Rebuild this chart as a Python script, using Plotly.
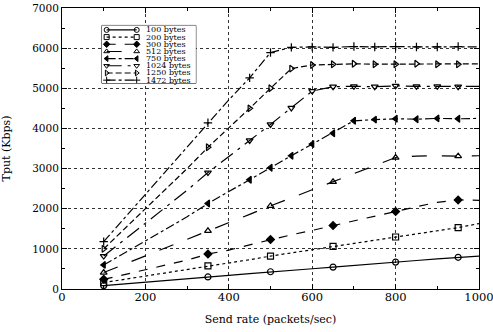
import plotly.graph_objects as go

# ---------------- data ----------------
SEND_RATE = [100, 150, 200, 250, 300, 350, 400, 450, 500, 550,
             600, 650, 700, 750, 800, 850, 900, 950, 1000]
MARKER_RATES_LOW = [100, 350, 500, 650, 800, 950]
MARKER_RATES_HIGH = [100, 350, 450, 500, 550, 600, 650, 700, 750,
                     800, 850, 900, 950]
SERIES_NAMES = ["100 bytes", "200 bytes", "300 bytes", "512 bytes",
                "750 bytes", "1024 bytes", "1250 bytes", "1472 bytes"]

TPUT_100 = [85, 125, 165, 205, 245, 300, 340, 385, 430, 470,
            505, 545, 590, 630, 670, 710, 750, 790, 820]
TPUT_200 = [160, 240, 320, 400, 480, 575, 650, 730, 820, 900,
            980, 1060, 1130, 1210, 1295, 1380, 1450, 1530, 1630]
TPUT_300 = [240, 360, 480, 600, 720, 870, 970, 1100, 1230, 1350,
            1460, 1580, 1700, 1810, 1930, 2050, 2160, 2220, 2210]
TPUT_512 = [410, 615, 820, 1020, 1230, 1450, 1650, 1860, 2070, 2270,
            2470, 2670, 2870, 3070, 3275, 3310, 3320, 3310, 3320]
TPUT_750 = [600, 900, 1200, 1500, 1800, 2130, 2420, 2720, 3020, 3320,
            3610, 3880, 4190, 4220, 4240, 4230, 4250, 4240, 4250]
TPUT_1024 = [820, 1230, 1640, 2050, 2460, 2900, 3290, 3700, 4100, 4510,
             4930, 5040, 5050, 5040, 5060, 5050, 5050, 5040, 5050]
TPUT_1250 = [1000, 1500, 2000, 2500, 3000, 3530, 4010, 4500, 5000, 5490,
             5580, 5600, 5610, 5600, 5600, 5610, 5600, 5600, 5610]
TPUT_1472 = [1180, 1770, 2370, 2940, 3530, 4140, 4710, 5260, 5890, 6020,
             6030, 6020, 6040, 6030, 6040, 6030, 6030, 6040, 6030]

X_TICKS = [0, 200, 400, 600, 800, 1000]
Y_TICKS = [0, 1000, 2000, 3000, 4000, 5000, 6000, 7000]

ALL_SERIES = [TPUT_100, TPUT_200, TPUT_300, TPUT_512,
              TPUT_750, TPUT_1024, TPUT_1250, TPUT_1472]
MARKER_SETS = [MARKER_RATES_LOW] * 4 + [MARKER_RATES_HIGH] * 4

# ---------------- styles ----------------
DASHES = ["solid", "dot", "dash", "longdash", "dashdot",
          "longdashdot", "6px,3px", "dashdot"]
SYMBOLS = ["circle-open", "square-open", "diamond", "triangle-up-open",
           "triangle-left", "triangle-down-open", "triangle-right-open",
           "cross-thin-open"]
SERIF = "DejaVu Serif, Liberation Serif, serif"

fig = go.Figure()

for name, vals, dash, sym, mrates in zip(SERIES_NAMES, ALL_SERIES, DASHES,
                                         SYMBOLS, MARKER_SETS):
    fig.add_trace(go.Scatter(
        x=SEND_RATE, y=vals, mode="lines", name=name,
        line=dict(color="black", width=1.2, dash=dash),
        showlegend=False, hoverinfo="skip"))
    mx = [r for r in SEND_RATE if r in mrates]
    my = [v for r, v in zip(SEND_RATE, vals) if r in mrates]
    fig.add_trace(go.Scatter(
        x=mx, y=my, mode="markers", name=name,
        marker=dict(symbol=sym, size=6, color="black",
                    line=dict(color="black", width=1.2)),
        showlegend=False))

# ---------------- hand-drawn legend in its own small axes ----------------
L_X0, L_X1 = (102 - 62) / 417.5, (196 - 62) / 417.5
L_Y0, L_Y1 = (289.5 - 83) / 282, (289.5 - 25) / 282
fig.add_shape(type="rect", xref="paper", yref="paper",
              x0=L_X0, x1=L_X1, y0=L_Y0, y1=L_Y1,
              line=dict(color="black", width=1), fillcolor="white",
              layer="between")
for i, (name, dash, sym) in enumerate(zip(SERIES_NAMES, DASHES, SYMBOLS)):
    yy = (83 - (29.5 + 7.2 * i)) / 58
    fig.add_trace(go.Scatter(
        x=[0.05, 0.37], y=[yy, yy], mode="lines+markers",
        xaxis="x2", yaxis="y2", showlegend=False, hoverinfo="skip",
        line=dict(color="black", width=1.1, dash=dash),
        marker=dict(symbol=sym, size=5, color="black",
                    line=dict(color="black", width=1))))
    fig.add_annotation(x=0.45, y=yy, xref="x2", yref="y2", text=name,
                       showarrow=False, xanchor="left", yanchor="middle",
                       font=dict(family=SERIF, size=8, color="black"))

axis_common = dict(
    showline=True, linecolor="black", linewidth=1, mirror="allticks",
    ticks="inside", ticklen=5, tickcolor="black",
    showgrid=True, gridcolor="#333333", griddash="dot", gridwidth=1,
    zeroline=False, ticklabeloverflow="allow", automargin=False,
)

fig.update_layout(
    width=493, height=332,
    margin=dict(l=62, r=13.5, t=7.5, b=42.5),
    paper_bgcolor="white", plot_bgcolor="white",
    xaxis=dict(range=[0, 1000], tickvals=X_TICKS, **axis_common,
               ticklabelstandoff=-3,
               tickfont=dict(family=SERIF, size=11.5, color="black"),
               minor=dict(ticks="inside", ticklen=3, dtick=100,
                          tickcolor="black", showgrid=False),
               title=dict(text="Send rate (packets/sec)", standoff=12,
                          font=dict(family=SERIF, size=11, color="black"))),
    yaxis=dict(range=[0, 7000], tickvals=Y_TICKS, **axis_common,
               tickfont=dict(family=SERIF, size=10.5, color="black"),
               minor=dict(ticks="inside", ticklen=3, dtick=500,
                          tickcolor="black", showgrid=False),
               title=dict(text="Tput (Kbps)", standoff=22,
                          font=dict(family=SERIF, size=11, color="black"))),
    xaxis2=dict(domain=[L_X0, L_X1], range=[0, 1], visible=False,
                anchor="y2"),
    yaxis2=dict(domain=[L_Y0, L_Y1], range=[0, 1], visible=False,
                anchor="x2"),
)

fig.write_html("out.html",
               config={"displayModeBar": False},
               post_script="document.body.style.margin='0';")
